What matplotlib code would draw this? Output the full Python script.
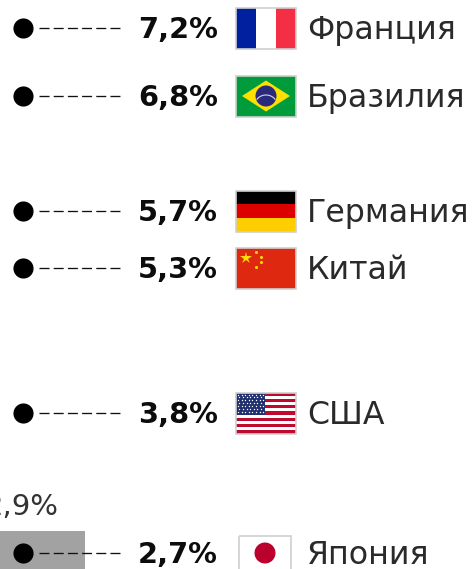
import numpy as np
import matplotlib
matplotlib.use("Agg")
import matplotlib.pyplot as plt
from matplotlib.patches import Rectangle, Circle, Polygon

countries = ["Франция", "Бразилия", "Германия", "Китай", "США", "Япония"]
values = [7.2, 6.8, 5.7, 5.3, 3.8, 2.7]
labels = ["7,2%", "6,8%", "5,7%", "5,3%", "3,8%", "2,7%"]
side_value = 2.9
side_label = "2,9%"

# Vertical layout of the scale: value -> pixel row
scale_v = [2.0, 2.7, 2.9, 3.8, 5.3, 5.7, 6.8, 7.2, 8.0]
scale_p = [650, 553, 505, 413, 268, 211, 96, 28, -100]
W, H = 475, 569

def forward(v):
    return -np.interp(v, scale_v, scale_p)

def inverse(y):
    return np.interp(y, -np.array(scale_p, float), scale_v)

fig = plt.figure(figsize=(W / 100, H / 100), dpi=100)

fx = fig.add_axes([0, 0, 1, 1])
fx.set_xlim(0, W)
fx.set_ylim(H, 0)
fx.axis("off")

ax = fig.add_axes([0, 0, 1, 1])
ax.set_xlim(0, W)
ax.set_yscale("function", functions=(forward, inverse))
ax.set_ylim(inverse(-H), inverse(0))
ax.axis("off")
ax.patch.set_alpha(0)

fx.add_patch(Rectangle((0, 531), 85, 38, color="#a2a2a2", lw=0, zorder=0))

PCT = dict(family="DejaVu Sans", fontsize=20.8, fontweight="bold", color="#0c0c0c", ha="right", va="center")
NAME = dict(family="DejaVu Sans", fontsize=22.8, fontweight="normal", color="#2a2a2a", ha="left", va="center")

def put(x, v, s, dy, **kw):
    ax.annotate(s, (x, v), xytext=(0, dy), textcoords="offset pixels", **kw)

put(59, side_value, side_label, -2, family="DejaVu Sans", fontsize=21, color="#333333", ha="right", va="center")

for v, lab, name in zip(values, labels, countries):
    ax.plot([39, 122], [v, v], color="#111111", lw=0.95, dashes=(10 / 1.32, 4.2 / 1.32), zorder=2)
    ax.plot([23], [v], "o", color="black", ms=14.5, mew=0, zorder=3)
    put(218, v, lab, -2, **PCT)
    put(307, v, name, -2, **NAME)

def frame(x, y, w, h):
    fx.add_patch(Rectangle((x, y), w, h, fc="none", ec="#cfcfcf", lw=1.2, zorder=5))

def rect(x, y, w, h, c):
    fx.add_patch(Rectangle((x, y), w, h, fc=c, ec="none", zorder=4))

fw, fh = 60, 41
fl = 236

def france(y):
    for i, c in enumerate(["#00209f", "#ffffff", "#f42f45"]):
        rect(fl + i * fw / 3, y, fw / 3, fh, c)
    frame(fl, y, fw, fh)

def brazil(y):
    rect(fl, y, fw, fh, "#009b3a")
    fx.add_patch(Polygon([(fl + 6, y + fh / 2), (fl + fw / 2, y + 5), (fl + fw - 6, y + fh / 2), (fl + fw / 2, y + fh - 5)],
                         fc="#fedf00", ec="none", zorder=5))
    fx.add_patch(Circle((fl + fw / 2, y + fh / 2), 10.5, fc="#2a2a7c", ec="none", zorder=6))
    th = np.radians(np.arange(215, 326, 5))
    fx.plot(fl + fw / 2 + 11 * np.cos(th), y + fh / 2 + 9 + 10 * np.sin(th), color="#cfd6e6", lw=0.8, zorder=7)
    frame(fl, y, fw, fh)

def germany(y):
    for i, c in enumerate(["#000000", "#dd0000", "#ffce00"]):
        rect(fl, y + i * fh / 3, fw, fh / 3, c)
    frame(fl, y, fw, fh)

def china(y):
    rect(fl, y, fw, fh, "#de2910")
    fx.plot([fl + 10], [y + 10], marker="*", color="#ffde00", ms=9, mew=0, zorder=6)
    for dx, dy in [(20, 4), (25, 9), (25, 14), (20, 19)]:
        fx.plot([fl + dx], [y + dy], marker="o", color="#ffde00", ms=2.2, mew=0, zorder=6)
    frame(fl, y, fw, fh)

def usa(y):
    rect(fl, y, fw, fh, "#ffffff")
    sh = fh / 13
    for i in range(0, 13, 2):
        rect(fl, y + i * sh, fw, sh, "#bf0a30")
    fx.add_patch(Rectangle((fl, y), fw * 0.48, sh * 7, fc="#1f2f6f", ec="none", zorder=5))
    for r in range(7):
        for c in range(8):
            fx.plot([fl + 2 + c * 3.6 + (r % 2) * 1.4], [y + 2 + r * 2.9], marker="o", color="#ffffff", ms=1.0, mew=0, zorder=6)
    frame(fl, y, fw, fh)

def japan(y):
    x0, w = 239, 52
    rect(x0, y, w, 41, "#ffffff")
    frame(x0, y, w, 41)
    fx.add_patch(Circle((x0 + w / 2, y + 17), 10.5, fc="#bc002d", ec="none", zorder=6))

for fn, v in zip([france, brazil, germany, china, usa, japan], values):
    top = -forward(v) - fh / 2
    if fn is japan:
        top = -forward(v) - 17
    fn(top)

fig.savefig("out.png", dpi=100)
